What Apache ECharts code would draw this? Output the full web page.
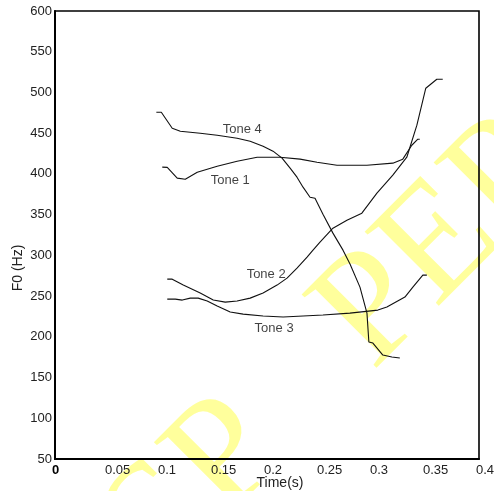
<!DOCTYPE html>
<html>
<head>
<meta charset="utf-8">
<script src="https://cdn.jsdelivr.net/npm/echarts@6/dist/echarts.min.js"></script>
<style>html,body{margin:0;padding:0;background:#fff}#c{width:494px;height:491px}</style>
</head>
<body>
<div id="c"></div>
<script>
// Tick labels
var xTickLabels = ['0','0.05','0.1','0.15','0.2','0.25','0.3','0.35','0.4'];
var yTickLabels = ['50','100','150','200','250','300','350','400','450','500','550','600'];

// Series values: [time (s), F0 (Hz)]
var tone1 = [[0.1012,408.3],[0.1059,408.0],[0.1153,394.8],[0.1229,393.5],[0.1342,402.1],[0.1530,409.5],[0.1718,415.6],[0.1907,420.5],[0.2123,420.5],[0.2312,418.1],[0.2472,414.4],[0.2660,410.7],[0.2943,410.7],[0.3187,413.2],[0.3281,418.1],[0.3366,435.2],[0.3423,442.6],[0.3441,442.6]];
var tone2 = [[0.1059,270.8],[0.1106,270.8],[0.1210,263.5],[0.1370,253.7],[0.1493,245.1],[0.1606,242.6],[0.1718,243.9],[0.1841,247.5],[0.1963,253.7],[0.2095,263.5],[0.2189,272.1],[0.2283,284.3],[0.2378,297.8],[0.2434,306.4],[0.2500,316.2],[0.2622,333.4],[0.2754,343.2],[0.2895,351.8],[0.3037,376.4],[0.3187,398.4],[0.3319,420.5],[0.3414,459.8],[0.3498,505.2],[0.3602,516.2],[0.3658,516.2]];
var tone3 = [[0.1059,246.3],[0.1135,246.3],[0.1201,245.1],[0.1276,247.5],[0.1351,247.5],[0.1436,243.9],[0.1530,237.7],[0.1653,230.4],[0.1775,227.9],[0.1963,225.5],[0.2152,224.3],[0.2340,225.5],[0.2528,226.7],[0.2782,229.1],[0.3046,232.8],[0.3131,236.5],[0.3301,248.8],[0.3376,261.0],[0.3470,275.8],[0.3508,275.8]];
var tone4 = [[0.0956,475.7],[0.1003,475.7],[0.1106,456.1],[0.1182,452.4],[0.1370,450.0],[0.1530,447.5],[0.1718,443.8],[0.1841,440.1],[0.1963,434.0],[0.2057,427.9],[0.2142,419.3],[0.2218,407.0],[0.2283,396.0],[0.2340,383.7],[0.2406,371.4],[0.2453,370.2],[0.2528,350.6],[0.2622,327.3],[0.2717,306.4],[0.2783,289.3],[0.2877,261.0],[0.2943,229.1],[0.2961,193.6],[0.2999,192.3],[0.3093,177.6],[0.3178,175.2],[0.3253,174.0]];

// Curve labels: [time, F0, text]
var toneLabels = [[0.1766,454.9,'Tone 4'],[0.1653,392.3,'Tone 1'],[0.1992,277.0,'Tone 2'],[0.2067,210.7,'Tone 3']];

var chart = echarts.init(document.getElementById('c'), null, {renderer:'canvas'});
function line(name, data){
  return {name:name, type:'line', data:data, showSymbol:false, symbol:'none', smooth:false,
    lineStyle:{color:'#111', width:1.1}, z:3, animation:false};
}
chart.setOption({
  animation:false,
  backgroundColor:'#fff',
  grid:{left:55, right:15, top:11, bottom:32, outerBoundsMode:'none', containLabel:false,
    show:true, borderColor:'#000', borderWidth:1.6, backgroundColor:'transparent'},
  graphic:[{type:'text', x:335, y:350, rotation:Math.PI/4, z:-10, silent:true,
    style:{text:'SP   PEP', font:'160px "Liberation Serif"', fill:'#ffff9c', align:'center', verticalAlign:'middle'}}],
  xAxis:{type:'value', min:0, max:0.4, interval:0.05,
    axisLine:{show:true, lineStyle:{color:'#000', width:2}}, axisTick:{show:false}, splitLine:{show:false},
    axisLabel:{color:'#222', fontSize:13, fontFamily:'"Liberation Sans", Arial', margin:5, align:'left',
      padding:[0,0,0,-3],
      formatter:function(v,i){ var s = xTickLabels[i]; return i===0 ? '{b|'+s+'}' : s; },
      rich:{b:{fontWeight:'bold', fontSize:13, color:'#000', fontFamily:'"Liberation Sans", Arial'}}},
    name:'Time(s)', nameLocation:'middle', nameGap:17, nameMoveOverlap:false,
    nameTextStyle:{color:'#222', fontSize:14, fontFamily:'"Liberation Sans", Arial', padding:[0,0,0,26]}},
  yAxis:{type:'value', min:50, max:600, interval:50,
    axisLine:{show:true, lineStyle:{color:'#000', width:2}}, axisTick:{show:false}, splitLine:{show:false},
    axisLabel:{color:'#222', fontSize:13, fontFamily:'"Liberation Sans", Arial', margin:3,
      formatter:function(v,i){ return yTickLabels[i]; }},
    name:'F0 (Hz)', nameLocation:'middle', nameGap:30, nameMoveOverlap:false,
    nameTextStyle:{color:'#222', fontSize:14, fontFamily:'"Liberation Sans", Arial', padding:[0,66,0,0]}},
  series:[
    line('Tone 1', tone1), line('Tone 2', tone2), line('Tone 3', tone3), line('Tone 4', tone4),
    {type:'scatter', data:toneLabels, symbolSize:1, itemStyle:{color:'transparent'}, z:4, silent:true,
      label:{show:true, position:'inside', color:'#111', fontSize:13, fontFamily:'"Liberation Sans", Arial',
        formatter:function(p){ return p.data[2]; }}}
  ]
});
</script>
</body>
</html>
